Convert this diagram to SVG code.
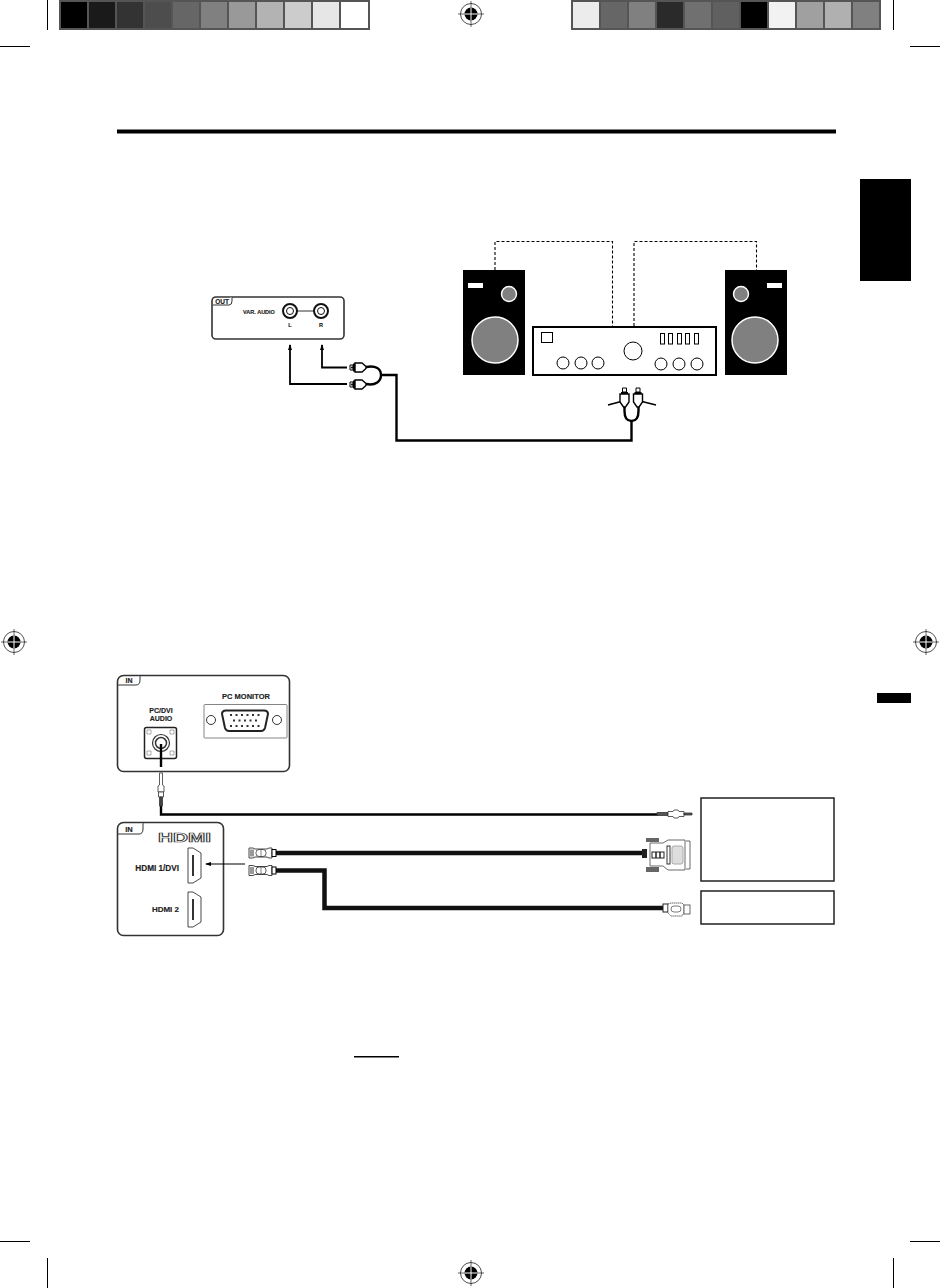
<svg xmlns="http://www.w3.org/2000/svg" xmlns:xlink="http://www.w3.org/1999/xlink" width="940" height="1288" viewBox="0 0 940 1288">
<style>
text{font-family:"Liberation Sans",Arial,sans-serif;font-weight:bold;fill:#222;stroke:#222;stroke-width:0.15}
.panel{fill:#fff;stroke:#333;stroke-width:1.6}
.tab{fill:#fff;stroke:#333;stroke-width:1}
.wire{fill:none;stroke:#000;stroke-width:2.400}
.thin{fill:none;stroke:#000;stroke-width:1.800}
.cable{fill:none;stroke:#111;stroke-width:4.500}
.dash{fill:none;stroke:#000;stroke-width:1.100;stroke-dasharray:3 2}
.k{fill:none;stroke:#000;stroke-width:1}
.g{fill:#fff;stroke:#333;stroke-width:1}
.box{fill:#fff;stroke:#222;stroke-width:1.5}
.tick{stroke:#000;stroke-width:1;fill:none}
</style>
<defs>
<g id="reg">
<circle r="10.5" fill="#fff" stroke="#222" stroke-width="0.8"/>
<circle r="6.5" fill="#000"/>
<path d="M-13 0H13M0-13V13" stroke="#000" stroke-width="0.6"/>
<path d="M-6.5 0H6.5M0-6.5V6.5" stroke="#fff" stroke-width="1"/>
</g>
<marker id="arr" markerWidth="7" markerHeight="7" refX="5" refY="3" orient="auto" markerUnits="userSpaceOnUse">
<path d="M0 1L6 3L0 5Z" fill="#000"/>
</marker>
<g id="rcaH">
<path d="M0-2.5H3V2.5H0Z" fill="#fff" stroke="#000" stroke-width="1"/>
<path d="M3-4H5V4H3Z" fill="#000"/>
<path d="M5-4.500H12L16-1V1L12 4.500H5Z" fill="#fff" stroke="#000" stroke-width="1.400"/>
<circle cx="2" r="1" fill="#000"/>
</g>
<g id="rcaV">
<path d="M-2-9H2V-5H-2Z" fill="#fff" stroke="#000" stroke-width="1"/>
<path d="M-3.500-5H3.500V-3H-3.500Z" fill="#000"/>
<path d="M-4.500-3H4.500V5L1 10H-1L-4.500 5Z" fill="#fff" stroke="#000" stroke-width="1.400"/>
</g>
<g id="hdmiPlug">
<path d="M0-5H4L6-4H18L20-5H23V5H20L18 4H6L4 5H0Z" fill="#fff" stroke="#333" stroke-width="0.9"/>
<path d="M2-3.500V3.500M4-3.500V3.500" stroke="#333" stroke-width="1"/>
<rect x="7" y="-3.500" width="10" height="7" rx="3" fill="#fff" stroke="#333" stroke-width="0.8"/>
<path d="M12-3.500V3.500" stroke="#333" stroke-width="0.6"/>
<rect x="23" y="-3.500" width="4" height="7" fill="#fff" stroke="#000" stroke-width="1"/>
</g>
<path id="hdmiPort" d="M0 0H5L13 5V30L5 35H0Z" fill="#fff" stroke="#333" stroke-width="0.9"/>
</defs>

<g id="crop-marks">
<rect x="59" y="0" width="311" height="30" fill="#555"/>
<g id="swatches-left">
<rect x="61" y="2" width="26" height="26" fill="#000"/>
<rect x="89" y="2" width="26" height="26" fill="#1a1a1a"/>
<rect x="117" y="2" width="26" height="26" fill="#333"/>
<rect x="145" y="2" width="26" height="26" fill="#4d4d4d"/>
<rect x="173" y="2" width="26" height="26" fill="#666"/>
<rect x="201" y="2" width="26" height="26" fill="#808080"/>
<rect x="229" y="2" width="26" height="26" fill="#999"/>
<rect x="257" y="2" width="26" height="26" fill="#b3b3b3"/>
<rect x="285" y="2" width="26" height="26" fill="#ccc"/>
<rect x="313" y="2" width="26" height="26" fill="#e6e6e6"/>
<rect x="341" y="2" width="27" height="26" fill="#fff"/>
</g>
<rect x="571" y="0" width="310" height="30" fill="#555"/>
<g id="swatches-right">
<rect x="573" y="2" width="26" height="26" fill="#ececec"/>
<rect x="601" y="2" width="26" height="26" fill="#666"/>
<rect x="629" y="2" width="26" height="26" fill="#808080"/>
<rect x="657" y="2" width="26" height="26" fill="#2a2a2a"/>
<rect x="685" y="2" width="26" height="26" fill="#707070"/>
<rect x="713" y="2" width="26" height="26" fill="#606060"/>
<rect x="741" y="2" width="26" height="26" fill="#000"/>
<rect x="769" y="2" width="26" height="26" fill="#f2f2f2"/>
<rect x="797" y="2" width="26" height="26" fill="#a0a0a0"/>
<rect x="825" y="2" width="26" height="26" fill="#b0b0b0"/>
<rect x="853" y="2" width="26" height="26" fill="#808080"/>
</g>
<path class="tick" d="M47.500 0V30M893.500 0V30M0 46.500H30M910 46.500H940M0 1241.500H30M910 1241.500H940M47.500 1258V1288M893.500 1258V1288"/>
<use xlink:href="#reg" href="#reg" x="471" y="14"/>
<use xlink:href="#reg" href="#reg" x="471" y="1273"/>
<use xlink:href="#reg" href="#reg" x="14" y="642"/>
<use xlink:href="#reg" href="#reg" x="926" y="642"/>
</g>

<rect id="title-rule" x="117" y="129.500" width="719" height="4" fill="#000"/>
<rect id="side-tab" x="860" y="179" width="51" height="102" fill="#000"/>
<rect id="side-bar" x="877" y="693" width="34" height="10" fill="#000"/>
<rect id="note-underline" x="354" y="1056" width="45" height="1.500" fill="#000"/>

<g id="speaker-left">
<rect x="463" y="270" width="62" height="105" fill="#000"/>
<rect x="468" y="283" width="15" height="5" fill="#fff"/>
<circle cx="509" cy="294" r="7.500" fill="#808080" stroke="#fff" stroke-width="1.400"/>
<circle cx="495" cy="340" r="23" fill="#808080" stroke="#fff" stroke-width="1.500"/>
</g>
<g id="speaker-right">
<rect x="725" y="270" width="62" height="105" fill="#000"/>
<rect x="767" y="283" width="15" height="5" fill="#fff"/>
<circle cx="741" cy="294" r="7.500" fill="#808080" stroke="#fff" stroke-width="1.400"/>
<circle cx="755" cy="340" r="23" fill="#808080" stroke="#fff" stroke-width="1.500"/>
</g>
<g id="amplifier">
<rect x="533" y="327" width="183" height="48" fill="#fff" stroke="#000" stroke-width="2"/>
<rect x="541.500" y="332.500" width="11" height="10" class="k"/>
<circle cx="563" cy="363" r="6" class="k"/><circle cx="581" cy="363" r="6" class="k"/><circle cx="598" cy="363" r="6" class="k"/>
<circle cx="633" cy="351" r="9" class="k"/>
<circle cx="661" cy="364" r="6" class="k"/><circle cx="679" cy="364" r="6" class="k"/><circle cx="697" cy="364" r="6" class="k"/>
<rect x="660.500" y="333.500" width="4" height="10.500" class="k"/><rect x="668.500" y="333.500" width="4" height="10.500" class="k"/><rect x="677.500" y="333.500" width="4" height="10.500" class="k"/><rect x="685.500" y="333.500" width="4" height="10.500" class="k"/><rect x="694.500" y="333.500" width="4" height="10.500" class="k"/>
</g>

<g id="panel-out">
<rect class="panel" x="212" y="297" width="132" height="42" rx="4"/>
<path class="tab" d="M213 305H229Q232 305 232 301V297"/>
<text x="222" y="304" font-size="6.500" text-anchor="middle">OUT</text>
<text x="259" y="314" font-size="5.500" text-anchor="middle">VAR. AUDIO</text>
<path d="M290 311H321" stroke="#333" stroke-width="1"/>
<circle cx="290" cy="311" r="7" fill="#fff" stroke="#111" stroke-width="2"/><circle cx="290" cy="311" r="3.500" fill="#fff" stroke="#111" stroke-width="1"/>
<circle cx="321" cy="311" r="7" fill="#fff" stroke="#111" stroke-width="2"/><circle cx="321" cy="311" r="3.500" fill="#fff" stroke="#111" stroke-width="1"/>
<text x="290" y="327" font-size="5.500" text-anchor="middle">L</text>
<text x="321" y="327" font-size="5.500" text-anchor="middle">R</text>
</g>

<g id="panel-pc">
<rect class="panel" x="117.500" y="675.500" width="172" height="96" rx="6"/>
<path class="tab" d="M118 685H136Q140 685 140 680V676"/>
<text x="129" y="683" font-size="7" text-anchor="middle">IN</text>
<text x="246" y="699" font-size="7.500" text-anchor="middle">PC MONITOR</text>
<rect x="204" y="704.500" width="83" height="33.500" rx="1" fill="#fff" stroke="#666" stroke-width="0.800"/>
<circle cx="211" cy="720" r="4.500" class="g" stroke-width="1.500"/><circle cx="277" cy="720" r="4.500" class="g" stroke-width="1.500"/>
<path d="M226 710.500H264Q268 710.500 268 714L265 728Q264 731 261 731H229Q226 731 225 728L222 714Q222 710.500 226 710.500Z" fill="#fff" stroke="#222" stroke-width="2"/>
<path d="M230 715H262M233 720.500H259M230 726H262" stroke="#333" stroke-width="2" stroke-dasharray="2 3.500" fill="none"/>
<text x="161" y="713" font-size="7" text-anchor="middle">PC/DVI</text>
<text x="161" y="721" font-size="7" text-anchor="middle">AUDIO</text>
<rect x="144.500" y="727.500" width="32" height="31" rx="2" fill="#fff" stroke="#222" stroke-width="1.500"/>
<path d="M147 730h4v4h-4zM170 730h4v4h-4zM147 751h4v4h-4zM170 751h4v4h-4z" fill="none" stroke="#777" stroke-width="0.600"/>
<circle cx="161" cy="743" r="8.500" fill="#fff" stroke="#333" stroke-width="1.200"/>
<circle cx="161" cy="743" r="5.500" fill="#fff" stroke="#333" stroke-width="1.500"/>
</g>

<g id="panel-hdmi">
<rect class="panel" x="117.500" y="822.500" width="106" height="113" rx="6"/>
<path class="tab" d="M118 834H139Q143 834 143 829V823"/>
<text x="129" y="832" font-size="7.500" text-anchor="middle">IN</text>
<text x="184.500" y="842" font-size="12" text-anchor="middle" textLength="53" lengthAdjust="spacingAndGlyphs" style="fill:#fff;stroke:#333;stroke-width:0.700">HDMI</text>
<text x="179" y="871" font-size="8.200" text-anchor="end">HDMI 1/DVI</text>
<text x="179" y="912" font-size="8" text-anchor="end">HDMI 2</text>
<use xlink:href="#hdmiPort" href="#hdmiPort" x="188" y="848"/>
<use xlink:href="#hdmiPort" href="#hdmiPort" x="188" y="892"/>
<rect x="192" y="855" width="2" height="21" fill="#333"/>
<rect x="192" y="899" width="2" height="21" fill="#333"/>
</g>

<g id="connectors">
<path class="dash" d="M495 270V241.500H612.500V326"/>
<path class="dash" d="M634 326V241.500H756.500V270"/>
<path class="thin" d="M347 367.500H322V345" marker-end="url(#arr)"/>
<path class="thin" d="M347 384H290V345" marker-end="url(#arr)"/>
<path class="wire" d="M366 367C376 365 381 369 381 375C381 381 376 386 366 384"/>
<path class="wire" d="M381 375H396.500V440.500H631.500V421"/>
<path class="wire" d="M624.500 403V411C624.500 419 628 421 631.500 421C635 421 638.500 419 638.500 411V403"/>
<path class="thin" d="M608 405L623 401M640 401L656 405" stroke-width="1"/>
<path class="wire" d="M161 744V767"/>
<path class="wire" d="M161 806V814.500H658"/>
<path class="cable" d="M276 853H642"/>
<path class="cable" d="M276 870.500H324.500V908H664"/>
<path class="thin" d="M245 864H206" marker-end="url(#arr)" style="stroke-width:1.200"/>
</g>

<g id="rca-amp">
<use xlink:href="#rcaV" href="#rcaV" x="624.500" y="397"/>
<use xlink:href="#rcaV" href="#rcaV" x="638" y="397"/>
</g>
<g id="rca-panel">
<use xlink:href="#rcaH" href="#rcaH" x="350" y="367.500"/>
<use xlink:href="#rcaH" href="#rcaH" x="350" y="384.500"/>
</g>
<g id="audio-plug-panel" fill="#fff" stroke="#333" stroke-width="0.800">
<path d="M159.500 773H162.500V785L164 786V792H158V786L159.500 785Z"/>
<path d="M158.500 792H163.500V797H158.500Z"/>
<path d="M159.500 797H162.500V806H159.500Z" fill="#444"/>
</g>
<g id="hdmi-plugs">
<use xlink:href="#hdmiPlug" href="#hdmiPlug" x="249" y="853"/>
<use xlink:href="#hdmiPlug" href="#hdmiPlug" x="249" y="870.500"/>
</g>
<g id="audio-plug-source" fill="#fff" stroke="#333" stroke-width="0.800">
<path d="M657 812.500H668V815.500H657Z" fill="#555"/>
<path d="M668 811.500H673L674 810H678L679 811.500H684V816.500H679L678 818H674L673 816.500H668Z"/>
<path d="M684 813H692V815H684Z" fill="#555"/>
</g>
<g id="dvi-plug">
<rect x="642" y="849" width="5" height="9" fill="#222"/>
<path d="M650 843H663L668 840H685V870H668L663 866H650Z" fill="#fff" stroke="#444" stroke-width="0.800"/>
<rect x="646" y="838" width="13" height="4" fill="#666"/>
<rect x="646" y="867" width="13" height="5" fill="#666"/>
<rect x="667" y="846" width="3" height="18" fill="#fff" stroke="#333"/>
<rect x="672" y="846" width="11" height="18" rx="2" fill="#ddd" stroke="#aaa"/>
<path d="M686 841H690V869H686" fill="#fff" stroke="#444" stroke-width="0.800"/>
<rect x="652" y="852" width="12" height="6" fill="#fff" stroke="#222"/>
<path d="M656 852V858M660 852V858" stroke="#222" stroke-width="1.500"/>
</g>
<g id="hdmi-plug-source">
<rect x="663" y="904" width="5" height="8" fill="#fff" stroke="#222"/>
<path d="M668 904L671 903H682L684 905V913L682 916H671L668 913Z" fill="#fff" stroke="#444" stroke-width="0.800" stroke-dasharray="1.500 0.500"/>
<rect x="671" y="906" width="10" height="6" rx="3" fill="#fff" stroke="#444" stroke-width="0.700"/>
<rect x="684" y="905" width="6" height="9" fill="#fff" stroke="#444" stroke-width="0.800"/>
</g>
<rect id="source-pc" class="box" x="701" y="798" width="133" height="83"/>
<rect id="source-av" class="box" x="701" y="891" width="133" height="33"/>
</svg>
